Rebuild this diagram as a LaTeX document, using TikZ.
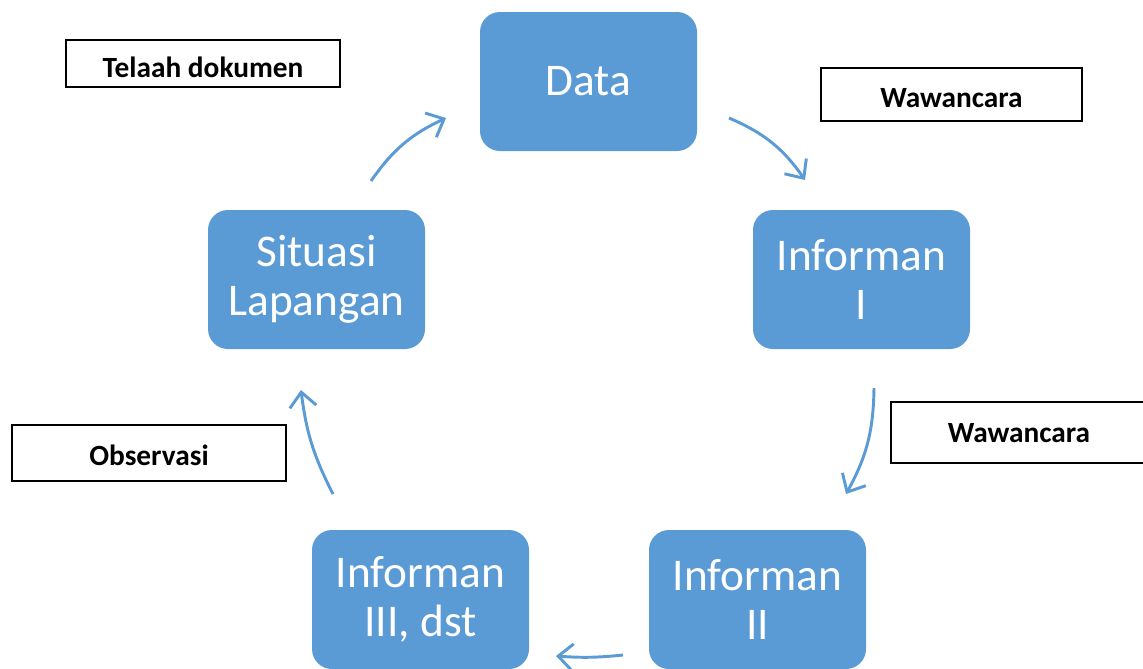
\documentclass[tikz,border=0pt]{standalone}
\usepackage{fontspec}
\setmainfont{Carlito}
\usetikzlibrary{arrows.meta}
\definecolor{boxblue}{HTML}{5B9BD5}
\begin{document}
\begin{tikzpicture}[x=0.75pt,y=0.75pt,
  stage/.style={fill=boxblue, rounded corners=15pt, minimum width=162.75pt,
    minimum height=104.25pt, text=white, align=center, inner sep=0pt,
    font=\fontsize{34}{37}\selectfont},
  tag/.style={draw=black, line width=1.1pt, fill=white, inner sep=0pt,
    text height=15pt, text depth=0pt,
    font=\bfseries\fontsize{22}{25}\selectfont},
  flow/.style={draw=boxblue, line width=2.2pt,
    -{Straight Barb[length=11pt,width=20pt,line width=2.2pt]}}]
\useasboundingbox (0,0) rectangle (1143,-668);
\clip (0,0) rectangle (1143,-668);

% process stages
\node[stage] (data)  at (588.5,-81.5)  {Data};
\node[stage] (inf1)  at (861.5,-279.5) {Informan\\I};
\node[stage] (inf2)  at (757.5,-599.5) {Informan\\II};
\node[stage] (inf3)  at (420.5,-599.5) {Informan\\III, dst};
\node[stage] (situ)  at (316.5,-279.5) {Situasi\\Lapangan};

% method labels
\node[tag, minimum width=205.5pt, minimum height=35.25pt] (telaah) at (203,-63.5) {\raisebox{-3pt}{Telaah dokumen}};
\node[tag, minimum width=195.75pt, minimum height=39.75pt] (waw1) at (951.5,-94.5) {\raisebox{-2.5pt}{Wawancara}};
\node[tag, minimum width=192pt, minimum height=45.75pt] (waw2) at (1019,-432.5) {Wawancara};
\node[tag, minimum width=205.5pt, minimum height=42pt] (obs) at (149,-453) {\raisebox{-1.5pt}{Observasi}};

% arrow end points
\coordinate (a1s) at (371,-181);
\coordinate (a1e) at (446,-118);
\coordinate (a2s) at (729,-118);
\coordinate (a2e) at (805,-180);
\coordinate (a3s) at (874,-388);
\coordinate (a3e) at (846,-494);
\coordinate (a4s) at (623,-655);
\coordinate (a4e) at (556,-656);
\coordinate (a5s) at (333,-494);
\coordinate (a5e) at (301,-390);

% cycle arrows
\draw[flow] (a1s) to[bend left=15] (a1e);
\draw[flow] (a2s) to[bend left=16] (a2e);
\draw[flow] (a3s) to[bend left=14] (a3e);
\draw[flow] (a4s) to[bend left=5] (a4e);
\draw[flow] (a5s) to[bend left=10] (a5e);
\end{tikzpicture}
\end{document}
